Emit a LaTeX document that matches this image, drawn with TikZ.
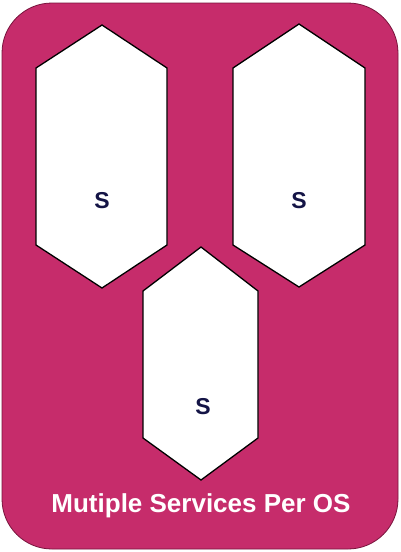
\documentclass[tikz,border=0pt]{standalone}
\usepackage{fontspec}
\setmainfont{Liberation Sans}
\definecolor{osfill}{RGB}{198,44,107}
\definecolor{osline}{RGB}{120,20,60}
\definecolor{labelc}{RGB}{20,20,70}
\tikzset{
  osbox/.style={fill=osfill, draw=osline, line width=0.8pt, rounded corners=50pt},
  hexa/.style={fill=white, draw=black, line width=1.3pt, line join=miter},
  slabel/.style={font=\bfseries\fontsize{23}{27}\selectfont, text=labelc, inner sep=0pt},
  title/.style={font=\bfseries\fontsize{26}{30}\selectfont, text=white, inner sep=0pt}
}
\begin{document}
\begin{tikzpicture}[x=1pt,y=-1pt]
\useasboundingbox (0,0) rectangle (401,552);
\draw[osbox] (2,3) rectangle (398,549);
% left hexagon
\draw[hexa] (102,25) -- (167,68) -- (167,245) -- (102,288) -- (36,245) -- (36,68) -- cycle;
% right hexagon
\draw[hexa] (299,24) -- (365,68) -- (365,245) -- (299,287) -- (233,245) -- (233,68) -- cycle;
% bottom hexagon
\draw[hexa] (201,247) -- (258,291) -- (258,438) -- (201,480) -- (143,438) -- (143,291) -- cycle;
\node[slabel] (s1) at (102,201) {S};
\node[slabel] (s2) at (299,201) {S};
\node[slabel] (s3) at (203,407) {S};
\node[title] (t) at (201,506) {Mutiple Services Per OS};
\end{tikzpicture}
\end{document}
